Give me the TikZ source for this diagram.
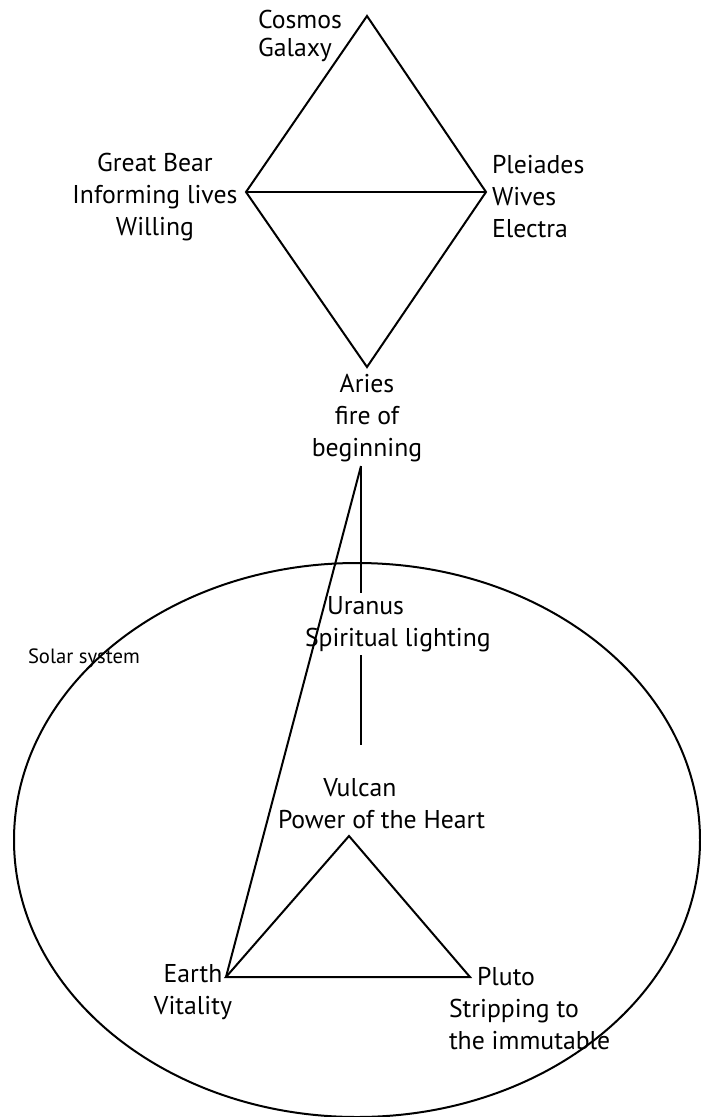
\documentclass[tikz,border=0pt]{standalone}
\usepackage{fontspec}
\setmainfont{PT Sans}
\usetikzlibrary{shapes.geometric}
\begin{document}
\begin{tikzpicture}[x=0.75pt,y=-0.75pt,line width=1.5pt,line join=miter,
  lbl/.style={inner sep=0pt,outer sep=0pt,font=\fontsize{19.3}{24}\selectfont},
  small/.style={inner sep=0pt,font=\fontsize{15.5}{18}\selectfont}]
\useasboundingbox (0,0) rectangle (700,1117);
% diamond vertices
\coordinate (top) at (367,16);
\coordinate (dl) at (246,192);
\coordinate (dr) at (486,192);
\coordinate (db) at (367,367);
\draw (top) -- (dr) -- (db) -- (dl) -- cycle;
\draw (dl) -- (dr);
% labels of diamond
\node[lbl,align=left,anchor=west,font=\fontsize{19.3}{21.5}\selectfont] (cosmos) at (258,36) {Cosmos\\Galaxy};
\node[lbl,align=center] (bear) at (155,197) {Great Bear\\Informing lives\\Willing};
\node[lbl,align=left,anchor=west] (pleiades) at (492,197) {Pleiades\\Wives\\Electra};
\node[lbl,align=center] (aries) at (367,418) {Aries\\fire of\\beginning};
% solar system
\node[draw,ellipse,minimum width=514.5pt,minimum height=415.5pt,inner sep=0pt] (solar) at (357,840) {};
\node[small,anchor=west] (solarlbl) at (27,658) {Solar system};
\node[lbl,align=left,anchor=west] (uranus) at (305,624) {\hspace*{16.5pt}Uranus\\Spiritual lighting};
\node[lbl,align=left,anchor=west] (vulcan) at (278,804) {\hspace*{34pt}Vulcan\\Power of the Heart};
\node[lbl,align=center] (earth) at (193,992) {Earth\\Vitality};
\node[lbl,align=left,anchor=west] (pluto) at (449,1009) {\hspace*{21pt}Pluto\\Stripping to\\the immutable};
% connectors
\coordinate (a0) at (361,466);
\coordinate (tv) at (349,836);
\coordinate (te) at (226,977);
\coordinate (tp) at (470,977);
\draw (a0) -- (361,593);
\draw (361,655) -- (361,745);
\draw (a0) -- (te);
\draw (tv) -- (tp) -- (te) -- cycle;
\end{tikzpicture}
\end{document}
